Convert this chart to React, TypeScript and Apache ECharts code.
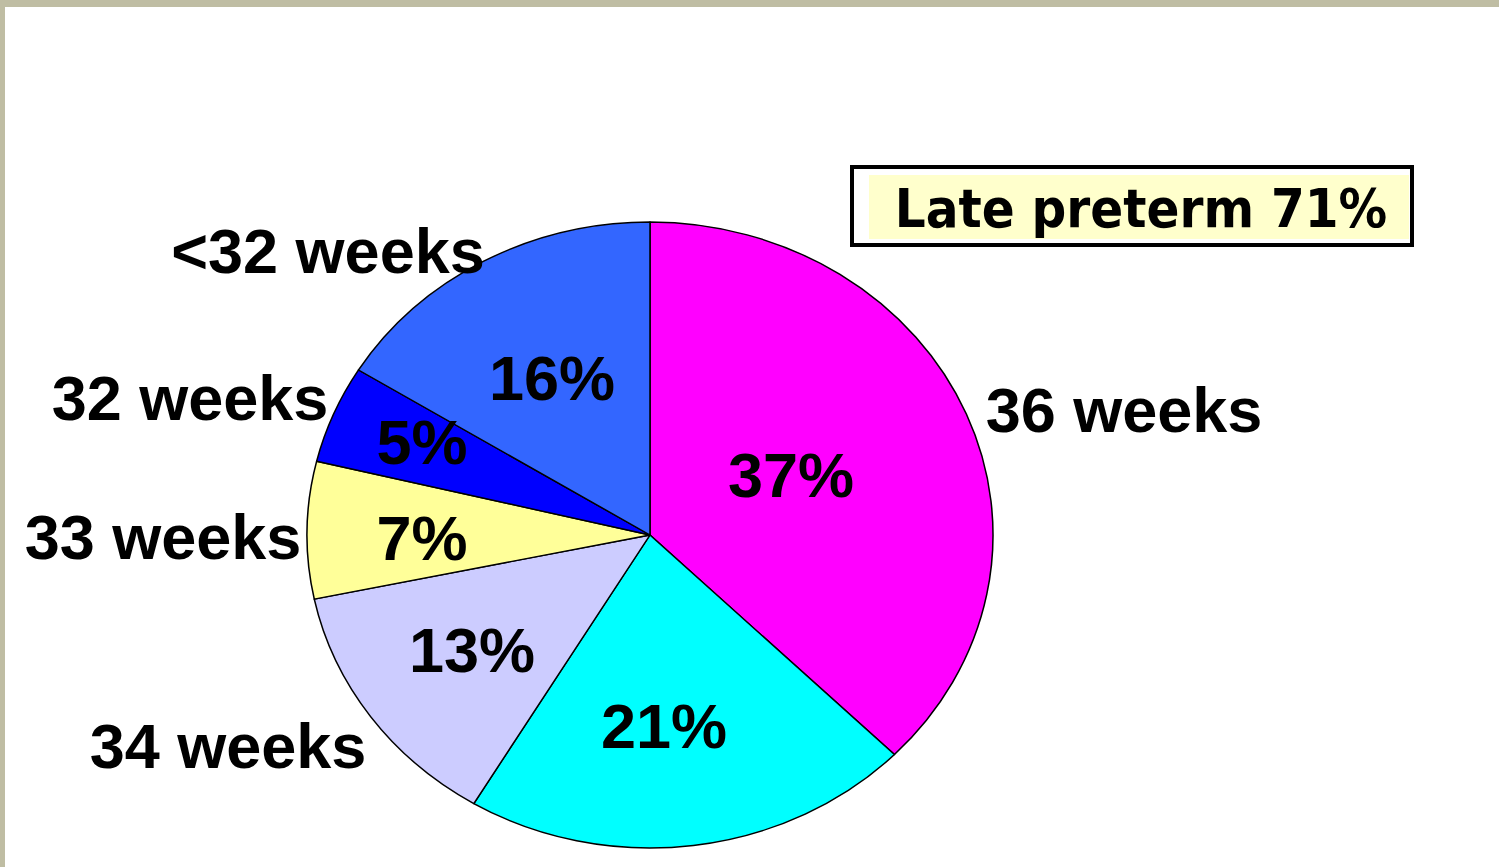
import React, { useEffect, useRef } from "react";
import * as echarts from "echarts";

// Share of preterm births by gestational age, clockwise from 12 o'clock
const categories = ["36 weeks", "35 weeks", "34 weeks", "33 weeks", "32 weeks", "<32 weeks"];
const shares = [37, 21, 13, 7, 5, 16];
const sliceColors = ["#ff00ff", "#00ffff", "#ccccff", "#ffff99", "#0000ff", "#3366ff"];
const nameLabelShown = [true, false, true, true, true, true];
const calloutText = "Late preterm 71%";

// Layout
const W = 1499;
const H = 867;
const CX = 650;
const CY = 535;
const RY = 313; // vertical radius
const RX = 343; // horizontal radius (pie is drawn as an ellipse)

const nameLabelPos: [number, number][] = [
  [1124, 410],
  [0, 0],
  [228, 746],
  [163, 537],
  [190, 398],
  [328, 251],
];
const shareLabelPos: [number, number][] = [
  [791, 475],
  [664, 726],
  [472, 650],
  [422, 538],
  [422, 442],
  [552, 378],
];

const LABEL_FONT = 'bold 63px "Liberation Sans", Arial, sans-serif';
const CALLOUT_FONT = 'bold 54px "DejaVu Sans Condensed", "DejaVu Sans", sans-serif';
const FRAME_COLOR = "#bfbda3";

function textEl(text: string, x: number, y: number, font: string) {
  return {
    type: "text",
    silent: true,
    style: {
      text,
      x,
      y,
      font,
      fill: "#000000",
      align: "center",
      verticalAlign: "middle",
      textAlign: "center",
      textVerticalAlign: "middle",
    },
  };
}

export default function App() {
  const pieRef = useRef<HTMLDivElement>(null);
  const overlayRef = useRef<HTMLDivElement>(null);

  useEffect(() => {
    const pie = echarts.init(pieRef.current!, null, { renderer: "svg" });
    pie.setOption({
      animation: false,
      backgroundColor: "#ffffff",
      series: [
        {
          type: "pie",
          center: [CX, CY],
          radius: RY,
          startAngle: 90,
          clockwise: true,
          silent: true,
          avoidLabelOverlap: false,
          label: { show: false },
          labelLine: { show: false },
          emphasis: { disabled: true },
          itemStyle: { borderColor: "#000000", borderWidth: 1.4 },
          data: categories.map((name, i) => ({
            name,
            value: shares[i],
            itemStyle: { color: sliceColors[i] },
          })),
        },
      ],
    });

    const overlay = echarts.init(overlayRef.current!, null, { renderer: "svg" });
    const labels: any[] = [];
    categories.forEach((name, i) => {
      if (nameLabelShown[i]) {
        labels.push(textEl(name, nameLabelPos[i][0], nameLabelPos[i][1], LABEL_FONT));
      }
      labels.push(textEl(`${shares[i]}%`, shareLabelPos[i][0], shareLabelPos[i][1], LABEL_FONT));
    });

    overlay.setOption({
      animation: false,
      backgroundColor: "transparent",
      graphic: [
        // slide frame edges
        { type: "rect", silent: true, shape: { x: 0, y: 0, width: W, height: 7 }, style: { fill: FRAME_COLOR } },
        { type: "rect", silent: true, shape: { x: 0, y: 0, width: 5, height: H }, style: { fill: FRAME_COLOR } },
        // callout box
        {
          type: "rect",
          silent: true,
          shape: { x: 852, y: 167, width: 560, height: 78 },
          style: { fill: "#ffffff", stroke: "#000000", lineWidth: 4 },
        },
        {
          type: "rect",
          silent: true,
          shape: { x: 869, y: 175, width: 540, height: 64 },
          style: { fill: "#ffffcc" },
        },
        textEl(calloutText, 1141, 208, CALLOUT_FONT),
        ...labels,
      ],
    });

    return () => {
      pie.dispose();
      overlay.dispose();
    };
  }, []);

  return (
    <div
      style={{
        position: "absolute",
        left: 0,
        top: 0,
        width: W,
        height: H,
        overflow: "hidden",
        background: "#ffffff",
      }}
    >
      <div
        ref={pieRef}
        style={{
          position: "absolute",
          left: 0,
          top: 0,
          width: W,
          height: H,
          transform: `scaleX(${RX / RY})`,
          transformOrigin: `${CX}px ${CY}px`,
        }}
      />
      <div
        ref={overlayRef}
        style={{ position: "absolute", left: 0, top: 0, width: W, height: H }}
      />
    </div>
  );
}
